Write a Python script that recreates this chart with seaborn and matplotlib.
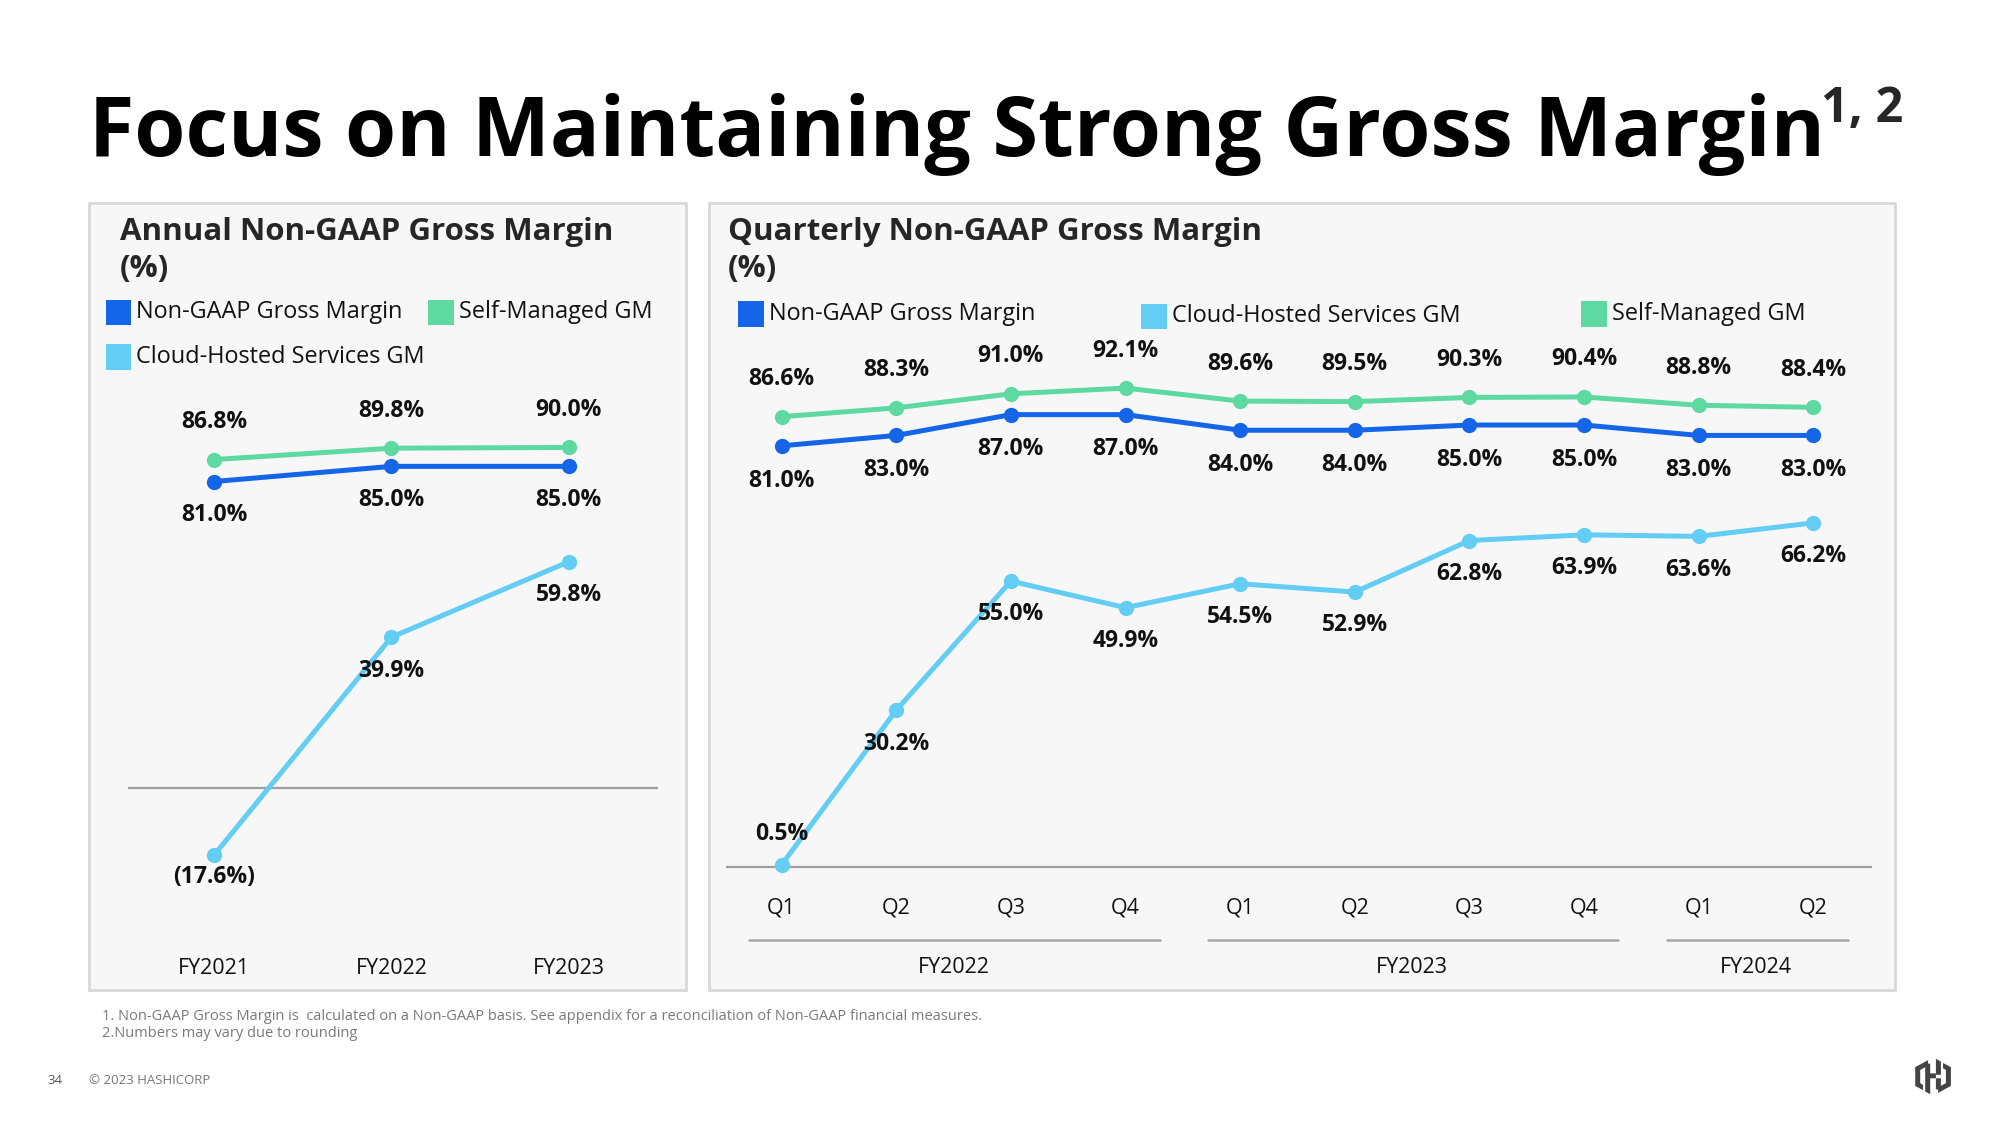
import pandas as pd
import matplotlib.pyplot as plt
import seaborn as sns
from matplotlib.patches import Rectangle, Polygon
import matplotlib.transforms as mtrans

# ---- data ----
years = ["FY2021", "FY2022", "FY2023"]
annual_total = [81.0, 85.0, 85.0]
annual_self = [86.8, 89.8, 90.0]
annual_cloud = [-17.6, 39.9, 59.8]

quarters = ["Q1", "Q2", "Q3", "Q4", "Q1", "Q2", "Q3", "Q4", "Q1", "Q2"]
fiscal_groups = ["FY2022", "FY2023", "FY2024"]
group_size = [4, 4, 2]
q_total = [81.0, 83.0, 87.0, 87.0, 84.0, 84.0, 85.0, 85.0, 83.0, 83.0]
q_self = [86.6, 88.3, 91.0, 92.1, 89.6, 89.5, 90.3, 90.4, 88.8, 88.4]
q_cloud = [0.5, 30.2, 55.0, 49.9, 54.5, 52.9, 62.8, 63.9, 63.6, 66.2]

BLUE = "#1565e8"
GREEN = "#5fd9a2"
CYAN = "#63cdf3"
palette = {"Non-GAAP Gross Margin": BLUE, "Self-Managed GM": GREEN,
           "Cloud-Hosted Services GM": CYAN}

sns.set_theme(style="white")
plt.rcParams['font.family'] = ['Open Sans', 'DejaVu Sans']

# layout measured on the slide (pixel units of a ~1568 x 882 view)
W, H = 1568.5, 882.0
def px(x): return x / W
def py(y): return 1 - y / H

fig = plt.figure(figsize=(20, 11.25), dpi=100)
fig.patch.set_facecolor("white")

# title
title = fig.text(px(70), py(122), "Focus on Maintaining Strong Gross Margin",
                 fontsize=59.5, fontweight="bold", color="black", va="baseline")
fig.canvas.draw()
bb = title.get_window_extent().transformed(fig.transFigure.inverted())
fig.text(bb.x1 - 0.002, py(96), "1, 2", fontsize=35, fontweight="bold",
         va="baseline")

# panel backgrounds
for x0, x1 in [(70, 538), (556, 1486)]:
    fig.patches.append(Rectangle((px(x0), py(776)), px(x1) - px(x0), py(159) - py(776),
                                 transform=fig.transFigure, facecolor="#f7f7f7",
                                 edgecolor="#d8d8d8", linewidth=2, zorder=-5))

fig.text(px(94), py(170), "Annual Non-GAAP Gross Margin\n(%)", fontsize=22.5,
         fontweight="bold", va="top", linespacing=1.3)
fig.text(px(571), py(170), "Quarterly Non-GAAP Gross Margin\n(%)", fontsize=22.5,
         fontweight="bold", va="top", linespacing=1.3)

def legend_item(x, y, label):
    fig.patches.append(Rectangle((px(x), py(y + 10)), px(20), 20 / H,
                                 transform=fig.transFigure, facecolor=palette[label],
                                 edgecolor="none"))
    fig.text(px(x + 24), py(y), label, fontsize=16.9, va="center", color="#111111")

legend_item(83, 245, "Non-GAAP Gross Margin")
legend_item(336, 245, "Self-Managed GM")
legend_item(83, 280, "Cloud-Hosted Services GM")
legend_item(579, 246, "Non-GAAP Gross Margin")
legend_item(895, 248, "Cloud-Hosted Services GM")
legend_item(1240, 246, "Self-Managed GM")

def fmt(v):
    return f"({abs(v):.1f}%)" if v < 0 else f"{v:.1f}%"

def draw_series(ax, labels, total, self_m, cloud):
    n = len(labels)
    df = pd.DataFrame({
        "x": list(range(n)) * 3,
        "value": total + self_m + cloud,
        "series": ["Non-GAAP Gross Margin"] * n + ["Self-Managed GM"] * n
                  + ["Cloud-Hosted Services GM"] * n,
    })
    ax.axhline(0, color="#9e9e9e", linewidth=1.6, zorder=1)
    sns.lineplot(data=df, x="x", y="value", hue="series", palette=palette,
                 marker="o", markersize=11, markeredgewidth=0, linewidth=3.6,
                 legend=False, ax=ax, zorder=3)
    return df

lab_kw = dict(textcoords="offset points", ha="center", va="center",
              fontsize=16.5, fontweight="bold", color="#111111")

# ---- annual panel ----
ax1 = fig.add_axes([px(100), py(730), px(516) - px(100), py(300) - py(730)])
draw_series(ax1, years, annual_total, annual_self, annual_cloud)
ax1.set_xlim(-0.489, 2.504)
ax1.set_ylim(-37.7, 107.1)
for i in range(len(years)):
    ax1.annotate(fmt(annual_self[i]), (i, annual_self[i]), xytext=(0, 27), **lab_kw)
    ax1.annotate(fmt(annual_total[i]), (i, annual_total[i]), xytext=(0, -24), **lab_kw)
    off = -24 if annual_cloud[i] >= 0 else -16
    ax1.annotate(fmt(annual_cloud[i]), (i, annual_cloud[i]), xytext=(0, off), **lab_kw)
ax1.set_xticks(range(len(years)))
ax1.set_xticklabels(years, fontsize=15.5)
ax1.set_yticks([])
ax1.tick_params(axis="x", length=0, pad=19, colors="#111111")

# ---- quarterly panel ----
ax2 = fig.add_axes([px(569), py(695), px(1468) - px(569), py(250) - py(695)])
draw_series(ax2, quarters, q_total, q_self, q_cloud)
ax2.set_xlim(-0.489, 9.51)
ax2.set_ylim(-3.68, 105.4)
for i in range(len(quarters)):
    ax2.annotate(fmt(q_self[i]), (i, q_self[i]), xytext=(0, 27), **lab_kw)
    ax2.annotate(fmt(q_total[i]), (i, q_total[i]), xytext=(0, -25), **lab_kw)
    off = -24 if i > 0 else 22
    ax2.annotate(fmt(q_cloud[i]), (i, q_cloud[i]), xytext=(0, off), **lab_kw)
ax2.set_xticks(range(len(quarters)))
ax2.set_xticklabels(quarters, fontsize=15.5)
ax2.set_yticks([])
ax2.tick_params(axis="x", length=0, pad=8, colors="#111111")

trans = mtrans.blended_transform_factory(ax2.transData, ax2.transAxes)
start = 0
for name, size in zip(fiscal_groups, group_size):
    end = start + size - 1
    ax2.plot([start - 0.28, end + 0.3], [-0.094, -0.094], transform=trans,
             color="#a8a8a8", linewidth=1.8, clip_on=False)
    ax2.text((start + end) / 2, -0.142, name,
             transform=trans, ha="center", va="center", fontsize=15.5, color="#111111")
    start += size

for ax in (ax1, ax2):
    ax.set_facecolor("none")
    ax.set_xlabel("")
    ax.set_ylabel("")
    sns.despine(ax=ax, left=True, bottom=True)

# footnotes
fig.text(px(80), py(797), "1. Non-GAAP Gross Margin is  calculated on a Non-GAAP basis. "
         "See appendix for a reconciliation of Non-GAAP financial measures.",
         fontsize=10.5, color="#7a7a7a", va="center")
fig.text(px(80), py(810), "2.Numbers may vary due to rounding", fontsize=10.5,
         color="#7a7a7a", va="center")
fig.text(px(37), py(847), "34", fontsize=9.5, color="#555555", va="center")
fig.text(px(70), py(847), "\u00a9 2023 HASHICORP", fontsize=9.5, color="#777777", va="center")

# logo
lax = fig.add_axes([px(1502), py(859), px(28), 30 / H])
lax.set_xlim(0, 1)
lax.set_ylim(0, 1.1)
lax.axis("off")
lg = "#444444"
for pts in [
    [(0, 0.28), (0, 0.82), (0.36, 1.02), (0.36, 0.86), (0.14, 0.74), (0.14, 0.36), (0.22, 0.31), (0.22, 0.16)],
    [(0.28, 0.12), (0.42, 0.04), (0.42, 0.5), (0.58, 0.5), (0.58, 0.64), (0.42, 0.64), (0.42, 0.92), (0.28, 0.92)],
    [(1, 0.82), (1, 0.28), (0.64, 0.08), (0.64, 0.24), (0.86, 0.36), (0.86, 0.74), (0.78, 0.79), (0.78, 0.94)],
    [(0.72, 0.98), (0.58, 1.06), (0.58, 0.6), (0.72, 0.6), (0.72, 0.18), (0.58, 0.18), (0.58, 0.5), (0.72, 0.5)],
]:
    lax.add_patch(Polygon(pts, closed=True, facecolor=lg, edgecolor="none"))

fig.savefig("out.png", dpi=100)
